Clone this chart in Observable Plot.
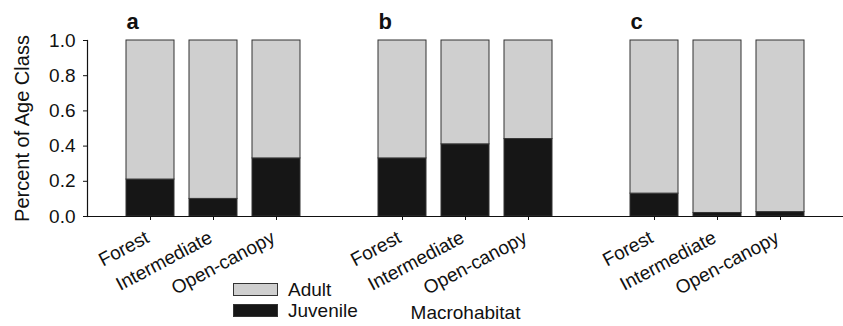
<!DOCTYPE html>
<html>
<head>
<meta charset="utf-8">
<script src="https://cdn.jsdelivr.net/npm/d3@7"></script>
<script src="https://cdn.jsdelivr.net/npm/@observablehq/plot@0.6"></script>
<style>
  html, body { margin: 0; padding: 0; background: #fff; }
  #wrap { position: relative; width: 843px; height: 326px; font-family: "Liberation Sans", Arial, sans-serif; }
  #legend { position: absolute; left: 233px; top: 279px; font-size: 19px; color: #111; }
  .row { display: flex; align-items: center; height: 21px; }
  .sw { width: 43px; height: 11px; border: 1px solid #333; margin-right: 10px; }
</style>
</head>
<body>
<div id="wrap"></div>
<script>
const panels = ["a", "b", "c"];
const habitats = ["Forest", "Intermediate", "Open-canopy"];
const ageClasses = ["Juvenile", "Adult"];
const juvenileA = [0.21, 0.10, 0.33];
const adultA    = [0.79, 0.90, 0.67];
const juvenileB = [0.33, 0.41, 0.44];
const adultB    = [0.67, 0.59, 0.56];
const juvenileC = [0.13, 0.02, 0.025];
const adultC    = [0.87, 0.98, 0.975];
const yTicks = [0, 0.2, 0.4, 0.6, 0.8, 1.0];

const series = {a: [juvenileA, adultA], b: [juvenileB, adultB], c: [juvenileC, adultC]};
const rows = [];
for (const p of panels) {
  habitats.forEach((h, i) => {
    rows.push({key: p + "|" + h, panel: p, habitat: h, age: "Juvenile", value: series[p][0][i]});
    rows.push({key: p + "|" + h, panel: p, habitat: h, age: "Adult", value: series[p][1][i]});
  });
}
const barKeys = panels.flatMap(p => habitats.map(h => p + "|" + h));
const domain = [];
panels.forEach((p, j) => {
  habitats.forEach(h => domain.push(p + "|" + h));
  if (j < panels.length - 1) domain.push("gap" + j);
});
const colors = {Juvenile: "#161616", Adult: "#cfcfcf"};
const labels = panels.map(p => ({key: p + "|" + habitats[0], panel: p}));

const chart = Plot.plot({
  width: 843,
  height: 326,
  marginLeft: 87,
  marginRight: 0,
  marginTop: 40,
  marginBottom: 110,
  style: {fontFamily: "'Liberation Sans', Arial, sans-serif", fontSize: "19px", color: "#111", background: "#fff"},
  x: {domain, paddingInner: 0.24, paddingOuter: 0.62, align: 0.5, label: null},
  y: {domain: [0, 1], label: null},
  color: {domain: ageClasses, range: ageClasses.map(a => colors[a])},
  marks: [
    Plot.barY(rows, {x: "key", y: "value", fill: "age", stroke: "#333", strokeWidth: 1}),
    Plot.ruleY([0], {stroke: "#111", strokeWidth: 1.2}),
    Plot.frame({anchor: "left", stroke: "#111", strokeWidth: 1.2}),
    Plot.axisY({ticks: yTicks, tickFormat: d3.format(".1f"), tickSize: 4, tickPadding: 8, fontSize: 19, label: null}),
    Plot.axisY({ticks: [], fontSize: 20, label: "Percent of Age Class", labelAnchor: "center", labelArrow: "none", labelOffset: 73}),
    Plot.axisX({ticks: barKeys, tickFormat: () => "", tickSize: 4, fontSize: 19, label: "Macrohabitat", labelAnchor: "center", labelArrow: "none", labelOffset: 102}),
    Plot.text(barKeys, {x: d => d, text: d => d.split("|")[1], frameAnchor: "bottom", textAnchor: "end", lineAnchor: "bottom", rotate: -28, dx: 0, dy: 25, fontSize: 19, fill: "#111"}),
    Plot.text(labels, {x: "key", y: () => 1, text: "panel", textAnchor: "start", dx: -24, dy: -12, lineAnchor: "bottom", fontSize: 22, fontWeight: "bold", fill: "#111"})
  ]
});
const wrap = document.getElementById("wrap");
wrap.appendChild(chart);
const legend = document.createElement("div");
legend.id = "legend";
legend.innerHTML = ["Adult", "Juvenile"].map(a =>
  `<div class="row"><div class="sw" style="background:${colors[a]}"></div><span>${a}</span></div>`).join("");
wrap.appendChild(legend);
</script>
</body>
</html>
